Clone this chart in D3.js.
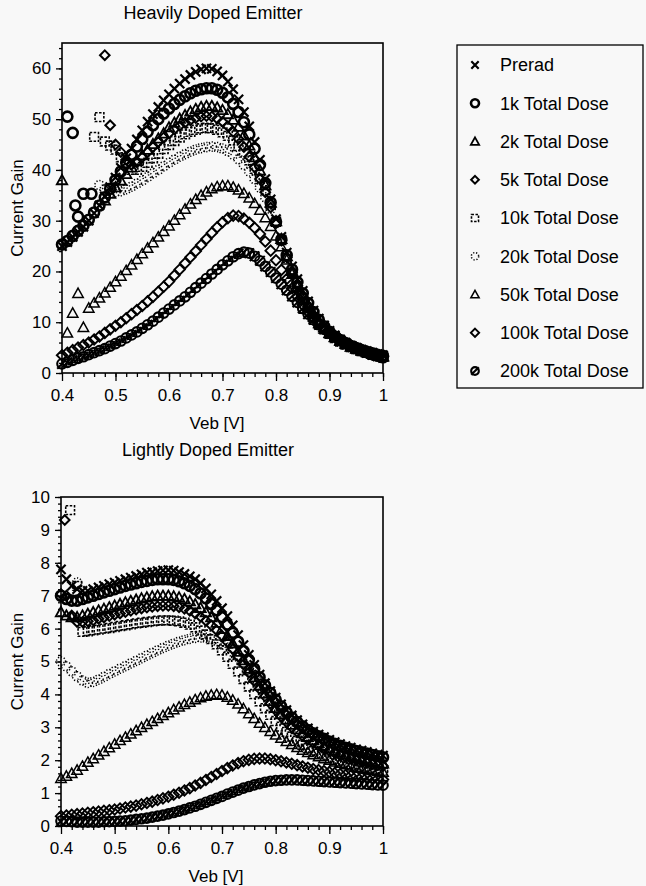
<!DOCTYPE html>
<html>
<head>
<meta charset="utf-8">
<title>Current Gain vs Veb - Heavily and Lightly Doped Emitter</title>
<script src="https://d3js.org/d3.v7.min.js"></script>
<style>
  body { margin: 0; background: #f8f8f8; }
  svg { display: block; }
  text { font-family: "Liberation Sans", Arial, sans-serif; fill: #000; }
  .axis text { font-size: 17px; }
  .axis line { stroke: #000; stroke-width: 1.3; }
  .axis path { display: none; }
  .frame { fill: none; stroke: #000; stroke-width: 1.6; }
  .title, .label { font-size: 17px; }
  .legend text { font-size: 18px; }
</style>
</head>
<body>
<svg id="chart" width="646" height="886"></svg>
<script>
// sampled emitter-base voltages (V)
var veb = [
  0.40, 0.41, 0.42, 0.43, 0.44, 0.45, 0.46, 0.47, 0.48, 0.49,
  0.50, 0.51, 0.52, 0.53, 0.54, 0.55, 0.56, 0.57, 0.58, 0.59,
  0.60, 0.61, 0.62, 0.63, 0.64, 0.65, 0.66, 0.67, 0.68, 0.69,
  0.70, 0.71, 0.72, 0.73, 0.74, 0.75, 0.76, 0.77, 0.78, 0.79,
  0.80, 0.81, 0.82, 0.83, 0.84, 0.85, 0.86, 0.87, 0.88, 0.89,
  0.90, 0.91, 0.92, 0.93, 0.94, 0.95, 0.96, 0.97, 0.98, 0.99,
  1.00];

var seriesNames = ["Prerad", "1k Total Dose", "2k Total Dose", "5k Total Dose",
  "10k Total Dose", "20k Total Dose", "50k Total Dose", "100k Total Dose", "200k Total Dose"];

// ---- Heavily doped emitter ----
var heavyPrerad = [
  25.0, 25.8, 26.8, 27.8, 28.8, 30.0, 31.5, 33.0, 34.8, 36.6,
  38.5, 40.4, 42.3, 44.2, 46.0, 47.8, 49.5, 51.0, 52.4, 53.7,
  54.9, 56.0, 57.0, 57.9, 58.7, 59.3, 59.8, 60.0, 59.9, 59.4,
  58.6, 57.4, 55.9, 53.9, 51.4, 48.6, 45.5, 42.0, 38.2, 34.2,
  30.3, 26.8, 23.7, 21.0, 18.5, 16.2, 14.1, 12.3, 10.7, 9.4,
  8.3, 7.4, 6.6, 6.0, 5.4, 5.0, 4.6, 4.3, 4.0, 3.7,
  3.5];
var heavy1k = [
  25.3, 26.0, 27.0, 28.0, 29.0, 30.2, 31.6, 33.0, 34.6, 36.3,
  38.0, 39.7, 41.4, 43.0, 44.6, 46.1, 47.5, 48.8, 50.0, 51.1,
  52.1, 53.0, 53.8, 54.5, 55.1, 55.6, 55.9, 56.1, 56.1, 55.8,
  55.2, 54.3, 53.0, 51.4, 49.4, 47.0, 44.2, 41.0, 37.4, 33.6,
  29.8, 26.3, 23.2, 20.4, 17.9, 15.7, 13.8, 12.0, 10.5, 9.2,
  8.1, 7.2, 6.5, 5.9, 5.3, 4.9, 4.5, 4.2, 3.9, 3.6,
  3.4];
var heavy2k = [
  38.0, null, null, null, null, null, null, null, 34.0, 35.3,
  36.6, 37.9, 39.2, 40.5, 41.7, 42.9, 44.0, 45.1, 46.2, 47.2,
  48.4, 49.3, 50.1, 50.8, 51.5, 52.0, 52.4, 52.6, 52.6, 52.3,
  51.8, 51.0, 49.9, 48.5, 46.8, 44.8, 42.5, 39.9, 37.0, 33.6,
  29.9, 26.4, 23.0, 20.1, 17.5, 15.3, 13.4, 11.7, 10.3, 9.0,
  7.9, 7.1, 6.4, 5.8, 5.2, 4.8, 4.4, 4.1, 3.8, 3.5,
  3.3];
var heavy5k = [
  null, null, null, null, null, null, null, null, 62.6, 48.8,
  45.0, 43.5, 42.0, 41.0, 41.5, 42.5, 43.5, 44.5, 45.5, 46.4,
  47.2, 48.0, 48.7, 49.3, 49.8, 50.2, 50.5, 50.6, 50.5, 50.1,
  49.5, 48.6, 47.5, 46.1, 44.5, 42.6, 40.5, 38.2, 35.6, 32.6,
  29.5, 26.1, 22.8, 19.8, 17.2, 15.0, 13.1, 11.4, 10.0, 8.8,
  7.8, 7.0, 6.3, 5.7, 5.1, 4.7, 4.3, 4.0, 3.7, 3.4,
  3.2];
var heavy10k = [
  null, null, null, null, null, null, 46.5, 50.4, 45.6, 44.8,
  44.0, 42.5, 41.0, 40.0, 40.0, 40.6, 41.4, 42.3, 43.2, 44.1,
  44.9, 45.7, 46.4, 47.0, 47.5, 47.9, 48.2, 48.3, 48.2, 47.9,
  47.4, 46.7, 45.8, 44.7, 43.4, 41.9, 40.2, 38.2, 36.0, 33.2,
  29.8, 26.2, 22.7, 19.7, 17.0, 14.8, 12.9, 11.3, 9.9, 8.7,
  7.7, 6.9, 6.2, 5.6, 5.1, 4.7, 4.3, 4.0, 3.7, 3.4,
  3.2];
var heavy20k = [
  null, null, null, null, null, null, null, 37.0, 36.2, 35.8,
  35.6, 35.8, 36.2, 36.7, 37.3, 37.9, 38.6, 39.3, 40.0, 40.7,
  41.4, 42.0, 42.6, 43.1, 43.6, 44.0, 44.3, 44.5, 44.6, 44.5,
  44.2, 43.7, 43.0, 42.1, 41.0, 39.7, 38.2, 36.5, 34.6, 32.3,
  29.6, 26.0, 22.6, 19.6, 16.9, 14.6, 12.7, 11.1, 9.7, 8.6,
  7.6, 6.8, 6.1, 5.5, 5.0, 4.6, 4.2, 3.9, 3.6, 3.3,
  3.1];
var heavy50k = [
  null, 7.9, 11.8, 15.7, 9.0, 12.8, 13.8, 14.8, 15.8, 16.9,
  18.0, 19.1, 20.2, 21.3, 22.4, 23.5, 24.6, 25.7, 26.8, 27.9,
  29.0, 30.1, 31.2, 32.3, 33.3, 34.2, 35.0, 35.7, 36.3, 36.7,
  36.9, 36.9, 36.6, 36.1, 35.4, 34.5, 33.4, 32.1, 30.6, 28.9,
  27.0, 24.9, 22.3, 19.5, 16.9, 14.6, 12.7, 11.1, 9.8, 8.7,
  7.8, 7.0, 6.3, 5.7, 5.2, 4.8, 4.4, 4.1, 3.8, 3.5,
  3.2];
var heavy100k = [
  3.5, 4.0, 4.5, 5.0, 5.5, 6.0, 6.6, 7.2, 7.9, 8.6,
  9.3, 10.0, 10.8, 11.6, 12.4, 13.2, 14.1, 15.0, 16.0, 17.0,
  18.0, 19.2, 20.4, 21.6, 22.8, 24.0, 25.2, 26.4, 27.6, 28.7,
  29.7, 30.5, 31.0, 30.9, 30.4, 29.6, 28.6, 27.4, 25.9, 24.1,
  22.2, 20.3, 18.5, 16.7, 15.0, 13.4, 12.0, 10.8, 9.7, 8.8,
  8.0, 7.3, 6.6, 6.0, 5.5, 5.0, 4.6, 4.2, 3.8, 3.5,
  3.2];
var heavy200k = [
  1.8, 2.1, 2.5, 2.9, 3.2, 3.6, 4.0, 4.4, 4.8, 5.3,
  5.8, 6.3, 6.9, 7.5, 8.1, 8.8, 9.5, 10.2, 11.0, 11.8,
  12.6, 13.4, 14.2, 15.0, 15.9, 16.8, 17.7, 18.6, 19.5, 20.4,
  21.3, 22.1, 22.9, 23.5, 23.8, 23.6, 23.0, 22.1, 21.0, 19.9,
  18.7, 17.5, 16.3, 15.1, 13.9, 12.7, 11.6, 10.5, 9.5, 8.6,
  7.8, 7.1, 6.4, 5.8, 5.3, 4.8, 4.4, 4.0, 3.6, 3.3,
  3.0];
// stray low-bias readings: [series index, Veb, gain]
var heavyStray = [
  [1, 0.41, 50.5], [1, 0.42, 47.3], [1, 0.425, 33.0],
  [1, 0.43, 30.8], [1, 0.44, 35.3], [1, 0.455, 35.3]];

// ---- Lightly doped emitter ----
var lightPrerad = [
  7.8, 7.5, 7.3, 7.2, 7.15, 7.15, 7.2, 7.25, 7.3, 7.35,
  7.4, 7.45, 7.5, 7.55, 7.6, 7.65, 7.7, 7.72, 7.75, 7.77,
  7.78, 7.76, 7.72, 7.66, 7.59, 7.5, 7.38, 7.22, 7.04, 6.84,
  6.62, 6.38, 6.1, 5.8, 5.5, 5.2, 4.9, 4.6, 4.34, 4.1,
  3.9, 3.7, 3.52, 3.36, 3.22, 3.09, 2.97, 2.87, 2.78, 2.7,
  2.62, 2.55, 2.49, 2.43, 2.38, 2.33, 2.29, 2.25, 2.21, 2.17,
  2.14];
var light1k = [
  7.0, 6.9, 6.85, 6.85, 6.9, 6.95, 7.0, 7.05, 7.1, 7.15,
  7.2, 7.25, 7.3, 7.34, 7.38, 7.42, 7.45, 7.48, 7.5, 7.5,
  7.5, 7.48, 7.44, 7.38, 7.3, 7.2, 7.07, 6.92, 6.75, 6.56,
  6.35, 6.12, 5.87, 5.6, 5.32, 5.05, 4.78, 4.52, 4.28, 4.05,
  3.84, 3.64, 3.46, 3.3, 3.16, 3.03, 2.92, 2.82, 2.73, 2.65,
  2.57, 2.5, 2.44, 2.38, 2.33, 2.28, 2.24, 2.2, 2.16, 2.12,
  2.09];
var light2k = [
  6.5, 6.4, 6.35, 6.35, 6.4, 6.45, 6.5, 6.55, 6.6, 6.65,
  6.7, 6.75, 6.8, 6.84, 6.88, 6.92, 6.95, 6.98, 7.0, 7.0,
  7.0, 6.98, 6.95, 6.9, 6.83, 6.74, 6.63, 6.5, 6.35, 6.18,
  5.99, 5.78, 5.55, 5.3, 5.04, 4.78, 4.52, 4.27, 4.03, 3.8,
  3.59, 3.4, 3.23, 3.08, 2.94, 2.82, 2.71, 2.61, 2.52, 2.44,
  2.37, 2.3, 2.24, 2.18, 2.13, 2.08, 2.04, 2.0, 1.96, 1.93,
  1.9];
var light5k = [
  7.05, 7.0, 6.4, 6.2, 6.2, 6.22, 6.25, 6.3, 6.34, 6.38,
  6.42, 6.46, 6.5, 6.54, 6.58, 6.61, 6.64, 6.66, 6.68, 6.69,
  6.69, 6.68, 6.65, 6.6, 6.54, 6.46, 6.36, 6.24, 6.1, 5.95,
  5.78, 5.59, 5.38, 5.15, 4.91, 4.66, 4.41, 4.17, 3.94, 3.72,
  3.52, 3.33, 3.16, 3.0, 2.86, 2.74, 2.63, 2.53, 2.44, 2.36,
  2.29, 2.22, 2.16, 2.1, 2.05, 2.0, 1.96, 1.92, 1.88, 1.85,
  1.82];
var light10k = [
  null, null, null, 7.3, 5.9, 5.92, 5.95, 5.97, 6.0, 6.02,
  6.05, 6.08, 6.1, 6.13, 6.16, 6.18, 6.2, 6.22, 6.24, 6.25,
  6.25, 6.24, 6.22, 6.18, 6.12, 6.04, 5.94, 5.82, 5.68, 5.52,
  5.34, 5.14, 4.93, 4.7, 4.47, 4.24, 4.01, 3.79, 3.58, 3.38,
  3.19, 3.02, 2.86, 2.72, 2.59, 2.47, 2.37, 2.28, 2.2, 2.13,
  2.06, 2.0, 1.95, 1.9, 1.85, 1.81, 1.77, 1.73, 1.7, 1.67,
  1.64];
var light20k = [
  5.0, 4.85, 4.7, 4.55, 4.42, 4.35, 4.38, 4.45, 4.53, 4.62,
  4.7, 4.78, 4.86, 4.94, 5.02, 5.1, 5.18, 5.26, 5.34, 5.41,
  5.48, 5.54, 5.6, 5.65, 5.69, 5.72, 5.73, 5.72, 5.68, 5.62,
  5.53, 5.42, 5.29, 5.14, 4.97, 4.78, 4.58, 4.37, 4.16, 3.95,
  3.75, 3.55, 3.36, 3.18, 3.01, 2.85, 2.71, 2.58, 2.46, 2.35,
  2.25, 2.16, 2.08, 2.01, 1.95, 1.89, 1.84, 1.79, 1.75, 1.71,
  1.67];
var light50k = [
  1.45, 1.52, 1.6, 1.7, 1.82, 1.94, 2.05, 2.16, 2.27, 2.38,
  2.49, 2.6, 2.7, 2.8, 2.9, 3.0, 3.09, 3.18, 3.27, 3.36,
  3.45, 3.54, 3.62, 3.7, 3.77, 3.84, 3.9, 3.95, 3.98, 4.0,
  3.98, 3.92, 3.83, 3.71, 3.57, 3.42, 3.27, 3.13, 3.0, 2.88,
  2.77, 2.67, 2.57, 2.48, 2.39, 2.31, 2.24, 2.17, 2.11, 2.05,
  2.0, 1.95, 1.91, 1.87, 1.83, 1.79, 1.76, 1.73, 1.7, 1.67,
  1.64];
var light100k = [
  0.3, 0.32, 0.34, 0.36, 0.38, 0.4, 0.42, 0.44, 0.46, 0.48,
  0.5, 0.53, 0.56, 0.59, 0.62, 0.66, 0.7, 0.74, 0.79, 0.84,
  0.89, 0.95, 1.01, 1.08, 1.15, 1.23, 1.31, 1.4, 1.49, 1.58,
  1.67, 1.76, 1.84, 1.91, 1.97, 2.01, 2.04, 2.05, 2.05, 2.03,
  2.0, 1.97, 1.93, 1.89, 1.85, 1.81, 1.77, 1.73, 1.7, 1.67,
  1.64, 1.61, 1.58, 1.55, 1.53, 1.51, 1.49, 1.47, 1.45, 1.43,
  1.41];
var light200k = [
  0.15, 0.14, 0.13, 0.12, 0.12, 0.12, 0.12, 0.12, 0.13, 0.13,
  0.14, 0.15, 0.16, 0.18, 0.2, 0.22, 0.24, 0.27, 0.3, 0.33,
  0.37, 0.41, 0.45, 0.5, 0.55, 0.6, 0.66, 0.72, 0.78, 0.84,
  0.9, 0.97, 1.03, 1.09, 1.15, 1.2, 1.25, 1.29, 1.33, 1.36,
  1.38, 1.39, 1.4, 1.4, 1.4, 1.39, 1.38, 1.37, 1.36, 1.35,
  1.34, 1.33, 1.32, 1.31, 1.3, 1.29, 1.28, 1.27, 1.26, 1.25,
  1.24];
var lightStray = [
  [3, 0.407, 9.3], [4, 0.417, 9.6], [5, 0.43, 7.4]];

var xTicks = [0.4, 0.5, 0.6, 0.7, 0.8, 0.9, 1];
var xTickLabels = ["0.4", "0.5", "0.6", "0.7", "0.8", "0.9", "1"];
var heavyYTicks = [0, 10, 20, 30, 40, 50, 60];
var lightYTicks = [0, 1, 2, 3, 4, 5, 6, 7, 8, 9, 10];

// marker look for each dose, in legend order (scan-like heavy strokes)
var markerStyles = [
  {kind: "x", r: 4.6, w: 2.2},
  {kind: "circle", r: 5, w: 2.6},
  {kind: "triangle", r: 5.2, w: 1.8},
  {kind: "diamond", r: 4.8, w: 2},
  {kind: "square", r: 4.4, w: 1.6, dash: "2.5,1.5"},
  {kind: "circle", r: 4.6, w: 1.5, dash: "1.2,1.8"},
  {kind: "triangle", r: 5.2, w: 1.5},
  {kind: "diamond", r: 5.2, w: 1.9},
  {kind: "slash", r: 4.8, w: 2.1}
];

function circlePath(r) {
  return "M" + r + ",0A" + r + "," + r + " 0 1,1 " + (-r) + ",0A" + r + "," + r + " 0 1,1 " + r + ",0Z";
}

function markerPath(kind, r) {
  switch (kind) {
    case "x": return "M" + (-r) + "," + (-r) + "L" + r + "," + r + "M" + r + "," + (-r) + "L" + (-r) + "," + r;
    case "triangle": return "M0," + (-r) + "L" + r + "," + (r * 0.8) + "L" + (-r) + "," + (r * 0.8) + "Z";
    case "diamond": return "M0," + (-r) + "L" + r + ",0L0," + r + "L" + (-r) + ",0Z";
    case "square": return "M" + (-r) + "," + (-r) + "h" + 2 * r + "v" + 2 * r + "h" + (-2 * r) + "Z";
    case "slash": return circlePath(r) + "M" + (-r) + "," + r + "L" + r + "," + (-r);
    default: return circlePath(r);
  }
}

function styleMarker(sel, st, scale) {
  var k = scale || 1;
  sel.attr("d", markerPath(st.kind, st.r * k))
    .attr("fill", "none")
    .attr("stroke", "#000")
    .attr("stroke-width", st.w)
    .attr("stroke-dasharray", st.dash || null);
}

var svg = d3.select("#chart");

function drawPanel(p) {
  var x = d3.scaleLinear().domain([0.4, 1]).range([p.left, p.right]);
  var y = d3.scaleLinear().domain([0, p.yMax]).range([p.bottom, p.top]);
  var g = svg.append("g");

  // minor ticks
  g.append("g").attr("class", "axis")
    .attr("transform", "translate(0," + p.bottom + ")")
    .call(d3.axisBottom(x).tickValues(d3.range(0.42, 1.0, 0.02)).tickSize(4).tickFormat(""));
  g.append("g").attr("class", "axis")
    .attr("transform", "translate(" + p.left + ",0)")
    .call(d3.axisLeft(y).tickValues(d3.range(0, p.yMax + 0.001, p.yMinor)).tickSize(3).tickFormat(""));

  // major ticks
  g.append("g").attr("class", "axis")
    .attr("transform", "translate(0," + p.bottom + ")")
    .call(d3.axisBottom(x).tickValues(xTicks).tickSize(8).tickPadding(8)
      .tickFormat(function(d, i) { return xTickLabels[i]; }));
  g.append("g").attr("class", "axis")
    .attr("transform", "translate(" + p.left + ",0)")
    .call(d3.axisLeft(y).tickValues(p.yTicks).tickSize(6).tickPadding(5));

  g.append("rect").attr("class", "frame")
    .attr("x", p.left).attr("y", p.top)
    .attr("width", p.right - p.left).attr("height", p.bottom - p.top);

  p.series.forEach(function(values, s) {
    var pts = [];
    values.forEach(function(v, i) { if (v != null) pts.push([veb[i], v]); });
    p.stray.forEach(function(d) { if (d[0] === s) pts.push([d[1], d[2]]); });
    g.append("g").selectAll("path").data(pts).enter().append("path")
      .attr("transform", function(d) { return "translate(" + x(d[0]) + "," + y(d[1]) + ")"; })
      .call(styleMarker, markerStyles[s]);
  });

  g.append("text").attr("class", "title")
    .attr("x", p.titleX).attr("y", p.titleY)
    .attr("text-anchor", "middle").style("font-size", "18px")
    .text(p.title);
  g.append("text").attr("class", "label")
    .attr("x", p.labelX).attr("y", p.bottom + 56)
    .attr("text-anchor", "middle")
    .text("Veb [V]");
  g.append("text").attr("class", "label")
    .attr("transform", "translate(23," + (p.top + p.bottom) / 2 + ") rotate(-90)")
    .attr("text-anchor", "middle")
    .text("Current Gain");
}

drawPanel({
  left: 62, right: 383, top: 43, bottom: 373, yMax: 65, yMinor: 2,
  yTicks: heavyYTicks,
  series: [heavyPrerad, heavy1k, heavy2k, heavy5k, heavy10k, heavy20k, heavy50k, heavy100k, heavy200k],
  stray: heavyStray,
  title: "Heavily Doped Emitter", titleX: 213, titleY: 19, labelX: 217
});

drawPanel({
  left: 61, right: 383, top: 497, bottom: 826, yMax: 10, yMinor: 0.2,
  yTicks: lightYTicks,
  series: [lightPrerad, light1k, light2k, light5k, light10k, light20k, light50k, light100k, light200k],
  stray: lightStray,
  title: "Lightly Doped Emitter", titleX: 208, titleY: 456, labelX: 216
});

// legend
var legendTop = 65, legendStep = 38.25;
svg.append("rect").attr("class", "frame")
  .attr("x", 457).attr("y", 45).attr("width", 186).attr("height", 343)
  .style("stroke-width", 1.3);

var legend = svg.append("g").attr("class", "legend")
  .selectAll("g").data(seriesNames).enter().append("g")
  .attr("transform", function(d, i) { return "translate(475," + (legendTop + i * legendStep) + ")"; });

legend.append("path").each(function(d, i) { d3.select(this).call(styleMarker, markerStyles[i], 0.8); });
legend.append("text")
  .attr("x", 25).attr("dy", "0.35em")
  .text(function(d) { return d; });
</script>
</body>
</html>
